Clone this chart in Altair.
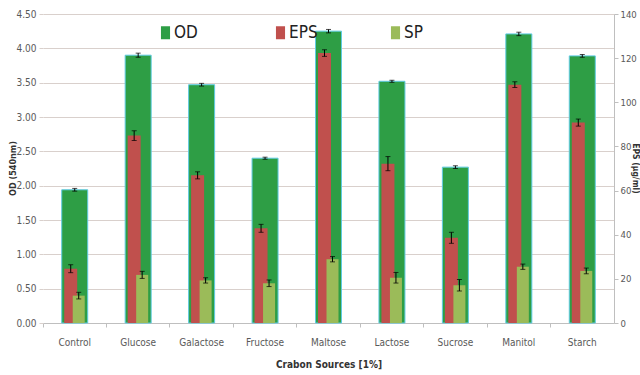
import altair as alt
import pandas as pd

categories = ["Control", "Glucose", "Galactose", "Fructose", "Maltose",
              "Lactose", "Sucrose", "Manitol", "Starch"]
od = [1.94, 3.90, 3.47, 2.40, 4.25, 3.52, 2.27, 4.21, 3.89]
od_err = [0.02, 0.03, 0.02, 0.015, 0.025, 0.015, 0.02, 0.025, 0.02]
eps = [24.6, 84.9, 66.9, 42.9, 122.3, 72.2, 38.6, 108.0, 90.8]
eps_err = [1.8, 2.2, 1.6, 1.8, 1.5, 3.2, 2.5, 1.3, 1.6]
sp = [12.4, 21.8, 19.3, 18.0, 28.9, 20.5, 17.1, 25.5, 23.6]
sp_err = [1.5, 1.6, 1.2, 1.5, 1.2, 2.4, 2.6, 1.2, 1.3]
series = ["OD", "EPS", "SP"]
colors = ["#2e9e45", "#c0504d", "#9bbb59"]
od_ticks = [0, 0.5, 1.0, 1.5, 2.0, 2.5, 3.0, 3.5, 4.0, 4.5]
eps_ticks = [0, 20, 40, 60, 80, 100, 120, 140]

df = pd.DataFrame({
    "cat": categories,
    "od": od, "od_lo": [v - e for v, e in zip(od, od_err)], "od_hi": [v + e for v, e in zip(od, od_err)],
    "eps": eps, "eps_lo": [v - e for v, e in zip(eps, eps_err)], "eps_hi": [v + e for v, e in zip(eps, eps_err)],
    "sp": sp, "sp_lo": [v - e for v, e in zip(sp, sp_err)], "sp_hi": [v + e for v, e in zip(sp, sp_err)],
})

FONT = "Liberation Sans Narrow, DejaVu Sans Condensed, Arial Narrow, sans-serif"
GRID = "#d9d0cc"
LABEL = "#595959"

x_enc = alt.X("cat:N", sort=categories,
              scale=alt.Scale(domain=categories, paddingInner=0, paddingOuter=0),
              axis=alt.Axis(title="Crabon Sources [1%]", labelAngle=0, bandPosition=0,
                            domainColor="#bfbfbf", tickColor="#bfbfbf", tickSize=4,
                            labelPadding=10, labelFontSize=10, labelColor=LABEL, labelFont=FONT,
                            titleFont=FONT, titleFontSize=10, titleFontWeight="bold",
                            titleColor="#333333", titlePadding=12))

left_axis = alt.Axis(orient="left", values=od_ticks, format=".2f", grid=True, gridColor=GRID,
                     domain=False, tickColor=GRID, tickSize=4, labelPadding=3,
                     labelFontSize=10, labelColor=LABEL, labelFont=FONT,
                     title="OD (540nm)", titleFont=FONT, titleFontSize=9,
                     titleFontWeight="bold", titleColor="#333333",
                     titleX=-31, titleY=154, titleAngle=270, titleBaseline="middle",
                     titleAlign="center")
right_axis = alt.Axis(orient="right", values=eps_ticks, grid=False, domain=True,
                      domainColor="#bfbfbf", tickColor="#bfbfbf", tickSize=4, labelPadding=2,
                      labelFontSize=9.5, labelColor=LABEL, labelFont=FONT,
                      title="EPS (\u00b5g/ml)", titleAngle=90, titleFont=FONT, titleFontSize=8.5,
                      titleFontWeight="bold", titleColor="#333333",
                      titleX=21, titleY=154, titleBaseline="middle", titleAlign="center")

od_scale = alt.Scale(domain=[0, 4.5], nice=False, zero=True)
eps_scale = alt.Scale(domain=[0, 140], nice=False, zero=True)

color_enc = alt.Color("series:N",
                      scale=alt.Scale(domain=series, range=colors),
                      legend=alt.Legend(title=None, orient="none", legendX=114, legendY=10,
                                        direction="horizontal", gridAlign="all",
                                        columnPadding=69, padding=0,
                                        symbolType="M-0.7,-1H0.7V1H-0.7Z",
                                        symbolSize=169, symbolStrokeWidth=0,
                                        labelFontSize=17, labelFont=FONT,
                                        labelColor="#222222", labelOffset=0))

base = alt.Chart(df)

od_bar = base.transform_calculate(series="'OD'").mark_bar(
    width=26, stroke="#5fcbe2", strokeWidth=1).encode(
    x=x_enc, y=alt.Y("od:Q", scale=od_scale, axis=left_axis), color=color_enc)
od_rule = base.mark_rule(color="black", strokeWidth=1).encode(
    x=x_enc, y=alt.Y("od_lo:Q", scale=od_scale, axis=left_axis), y2="od_hi:Q")
od_cap_lo = base.mark_tick(color="black", size=5, thickness=1).encode(
    x=x_enc, y=alt.Y("od_lo:Q", scale=od_scale, axis=left_axis))
od_cap_hi = base.mark_tick(color="black", size=5, thickness=1).encode(
    x=x_enc, y=alt.Y("od_hi:Q", scale=od_scale, axis=left_axis))

left_group = alt.layer(od_bar, od_rule, od_cap_lo, od_cap_hi)

eps_bar = base.transform_calculate(series="'EPS'").mark_bar(width=13, xOffset=-4).encode(
    x=x_enc, y=alt.Y("eps:Q", scale=eps_scale, axis=right_axis), color=color_enc)
sp_bar = base.transform_calculate(series="'SP'").mark_bar(width=12, xOffset=4).encode(
    x=x_enc, y=alt.Y("sp:Q", scale=eps_scale, axis=right_axis), color=color_enc)


def err_layers(lo, hi, off):
    rule = base.mark_rule(color="black", strokeWidth=1, xOffset=off).encode(
        x=x_enc, y=alt.Y(lo + ":Q", scale=eps_scale, axis=right_axis), y2=hi + ":Q")
    c1 = base.mark_tick(color="black", size=5, thickness=1, xOffset=off).encode(
        x=x_enc, y=alt.Y(lo + ":Q", scale=eps_scale, axis=right_axis))
    c2 = base.mark_tick(color="black", size=5, thickness=1, xOffset=off).encode(
        x=x_enc, y=alt.Y(hi + ":Q", scale=eps_scale, axis=right_axis))
    return [rule, c1, c2]


right_group = alt.layer(eps_bar, sp_bar, *err_layers("eps_lo", "eps_hi", -4),
                        *err_layers("sp_lo", "sp_hi", 4))

chart = alt.layer(left_group, right_group).resolve_scale(y="independent").properties(
    width=571, height=309,
    autosize=alt.AutoSizeParams(type="none"),
    padding={"left": 43, "top": 14, "right": 26, "bottom": 52},
    background="white",
).configure_view(strokeWidth=0)

chart.save("out.html", embed_options={"renderer": "svg", "actions": False})
